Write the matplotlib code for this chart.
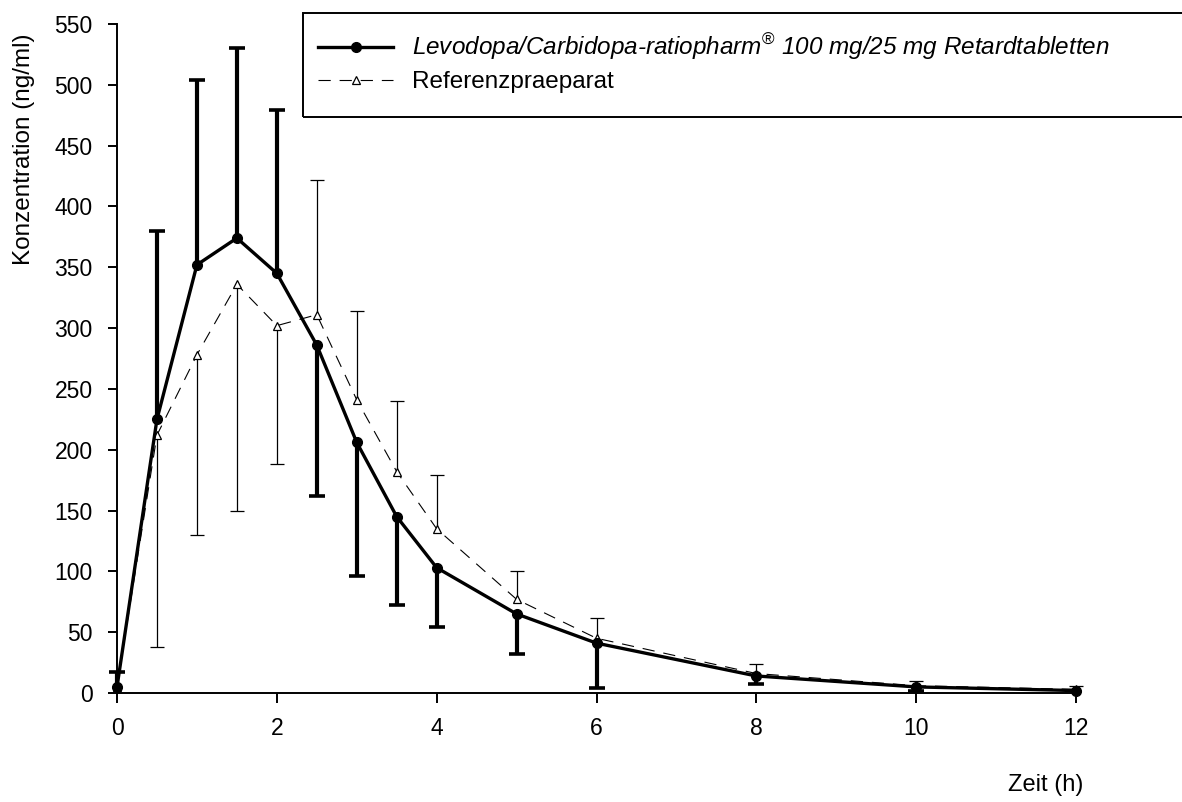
import matplotlib
matplotlib.use("Agg")
import matplotlib.pyplot as plt
import numpy as np
from matplotlib.patches import Rectangle

plt.rcParams['font.family'] = ['Liberation Sans', 'DejaVu Sans']
plt.rcParams['mathtext.fontset'] = 'custom'
plt.rcParams['mathtext.rm'] = 'Liberation Sans'
plt.rcParams['mathtext.it'] = 'Liberation Sans:italic'

# time points (h)
zeit = [0, 0.5, 1, 1.5, 2, 2.5, 3, 3.5, 4, 5, 6, 8, 10, 12]

# Levodopa/Carbidopa-ratiopharm (mean, one-sided SD)
test_mean = [5, 225, 352, 374, 345, 286, 206, 145, 103, 65, 41, 14, 5, 2]
test_sd_up = [12, 155, 152, 156, 134, 0, 0, 0, 0, 0, 0, 0, 0, 0]
test_sd_down = [0, 0, 0, 0, 0, 124, 110, 73, 49, 33, 37, 7, 3, 0]

# Referenzpraeparat
ref_mean = [5, 212, 278, 336, 302, 311, 241, 182, 135, 77, 45, 16, 6, 3]
ref_sd_up = [0, 0, 0, 0, 0, 111, 73, 58, 44, 23, 17, 8, 4, 3]
ref_sd_down = [0, 174, 148, 186, 114, 0, 0, 0, 0, 0, 0, 0, 0, 0]

label_test = "Levodopa/Carbidopa-ratiopharm$^{®}$ 100 mg/25 mg Retardtabletten"
label_ref = "Referenzpraeparat"

W, H = 1182, 802
fig = plt.figure(figsize=(W / 100, H / 100), dpi=100)
ax = fig.add_axes([117 / W, 109 / H, 959 / W, 669 / H])


def draw_bars(x, mean, up, down, lw, cap_ms, cap_mew):
    x = np.asarray(x, float)
    mean = np.asarray(mean, float)
    for err, sign in ((np.asarray(up, float), 1), (np.asarray(down, float), -1)):
        m = err > 0
        ends = mean[m] + sign * err[m]
        ax.vlines(x[m], mean[m], ends, color='k', lw=lw, clip_on=False, zorder=2)
        ax.plot(x[m], ends, ls='none', marker='_', ms=cap_ms, mew=cap_mew,
                color='k', clip_on=False, zorder=2)


draw_bars(zeit, ref_mean, ref_sd_up, ref_sd_down, 0.9, 10, 0.9)
draw_bars(zeit, test_mean, test_sd_up, test_sd_down, 3, 11, 2.6)

ln_ref, = ax.plot(zeit, ref_mean, color='k', lw=0.8, ls=(0, (11, 8)),
                  marker='^', ms=6, mfc='white', mec='k', mew=0.9,
                  clip_on=False, zorder=3)
ln_test, = ax.plot(zeit, test_mean, color='k', lw=2.4, marker='o', ms=7,
                   clip_on=False, zorder=4)

ax.set_xlim(0, 12)
ax.set_ylim(0, 550)
ax.set_xticks(np.arange(0, 13, 2))
ax.set_yticks(np.arange(0, 551, 50))
for s in ('top', 'right'):
    ax.spines[s].set_visible(False)
for s in ('left', 'bottom'):
    ax.spines[s].set_linewidth(1.4)
ax.tick_params(axis='x', length=7, width=1.4, labelsize=16.5, pad=10)
ax.tick_params(axis='y', length=6.5, width=1.4, labelsize=16.5, pad=11)

fig.text(24 / W, 1 - 149 / H, "Konzentration (ng/ml)", rotation=90,
         ha='center', va='center', fontsize=17.5)
fig.text(1046 / W, 1 - 785 / H, "Zeit (h)", ha='center', va='center', fontsize=17)

leg = fig.legend([ln_test, ln_ref], [label_test, label_ref], loc='upper left',
                 bbox_to_anchor=(318 / W, 1 - 32 / H), frameon=False,
                 borderaxespad=0, borderpad=0, fontsize=17.5,
                 handlelength=3.1, handletextpad=0.78, labelspacing=0.38)
leg.get_texts()[0].set_fontstyle('italic')
fig.add_artist(Rectangle((303 / W, 1 - 116.7 / H), (1200 - 303) / W, 104 / H,
                         fill=False, lw=1.4, ec='k', transform=fig.transFigure,
                         clip_on=False))

fig.savefig("out.png", dpi=100)
